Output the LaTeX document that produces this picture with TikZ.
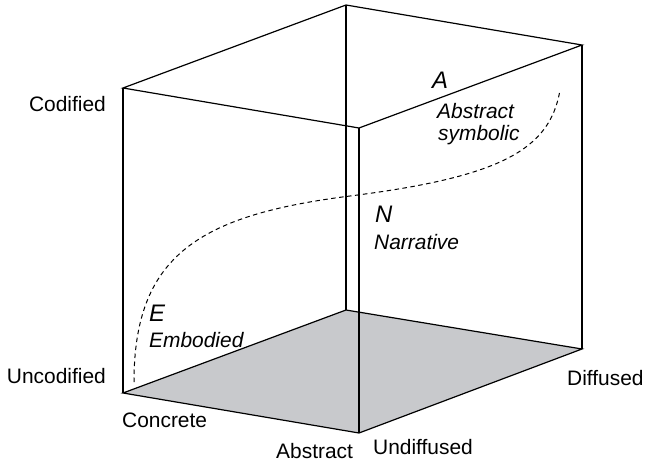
\documentclass[tikz,border=0pt]{standalone}
\usepackage{fontspec}
\setmainfont{Liberation Sans}
\begin{document}
\begin{tikzpicture}[x=1bp,y=-1bp,
  edge/.style={line width=1.2bp,line join=miter},
  lbl/.style={inner sep=0pt,font=\fontsize{21}{25}\selectfont},
  ilbl/.style={inner sep=0pt,font=\fontsize{21}{25}\selectfont\itshape},
  big/.style={inner sep=0pt,font=\fontsize{24}{28}\selectfont\itshape},
  path/.style={dashed,line width=1bp,dash pattern=on 4.5bp off 3.5bp}]
\useasboundingbox (0,0) rectangle (646,461);
\definecolor{floorgray}{RGB}{200,201,204}
% cube corners
\coordinate (TL) at (123,88);
\coordinate (TB) at (346,5);
\coordinate (TR) at (582,45);
\coordinate (TF) at (359,128);
\coordinate (BL) at (123,393);
\coordinate (BB) at (346,310);
\coordinate (BR) at (582,349);
\coordinate (BF) at (359,433);
% shaded floor
\fill[floorgray] (BL) -- (BB) -- (BR) -- (BF) -- cycle;
% edges
\draw[edge] (TL) -- (TB) -- (TR) -- (TF) -- cycle;
\draw[edge] (BL) -- (BB) -- (BR) -- (BF) -- cycle;
\draw[edge] (TL) -- (BL);
\draw[edge] (TB) -- (BB);
\draw[edge] (TR) -- (BR);
\draw[edge] (TF) -- (BF);
% development path
\coordinate (p0) at (134,382);
\coordinate (p1) at (350,196);
\coordinate (p2) at (560,90);
\draw[path] (p0) .. controls (134,255) and (200,215) .. (p1)
            .. controls (500,177) and (550,150) .. (p2);
% axis labels
\node[lbl,anchor=base east] (cod) at (106,112) {Codified};
\node[lbl,anchor=base east] (uncod) at (106,383) {Uncodified};
\node[lbl,anchor=base west] (conc) at (122,427) {Concrete};
\node[lbl,anchor=base west] (abs) at (276,458) {Abstract};
\node[lbl,anchor=base west] (undif) at (373,454) {Undiffused};
\node[lbl,anchor=base west] (dif) at (567,385) {Diffused};
% knowledge types
\node[big,anchor=base west] (A) at (432,89) {A};
\node[ilbl,anchor=base west] (abss) at (437,119) {Abstract};
\node[ilbl,anchor=base west] (symb) at (438,141) {symbolic};
\node[big,anchor=base west] (N) at (375,223) {N};
\node[ilbl,anchor=base west] (narr) at (374,250) {Narrative};
\node[big,anchor=base west] (E) at (149,322) {E};
\node[ilbl,anchor=base west] (emb) at (149,347) {Embodied};
\end{tikzpicture}
\end{document}
